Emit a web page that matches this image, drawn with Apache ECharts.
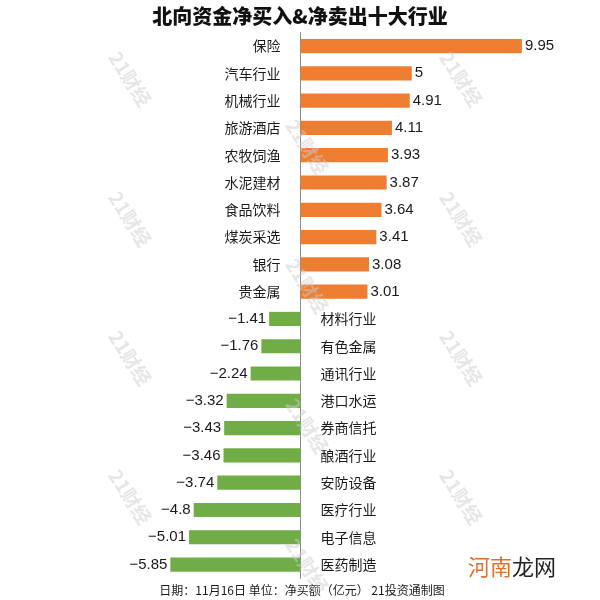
<!DOCTYPE html>
<html>
<head>
<meta charset="utf-8">
<script src="https://cdn.jsdelivr.net/npm/echarts@6/dist/echarts.min.js"></script>
<style>html,body{margin:0;padding:0;background:#fff;}#c{width:600px;height:600px;}</style>
</head>
<body>
<div id="c"></div>
<script>
const categories = ['保险','汽车行业','机械行业','旅游酒店','农牧饲渔','水泥建材','食品饮料','煤炭采选','银行','贵金属',
  '材料行业','有色金属','通讯行业','港口水运','券商信托','酿酒行业','安防设备','医疗行业','电子信息','医药制造'];
const values = [9.95, 5, 4.91, 4.11, 3.93, 3.87, 3.64, 3.41, 3.08, 3.01,
  -1.41, -1.76, -2.24, -3.32, -3.43, -3.46, -3.74, -4.8, -5.01, -5.85];
const titleText = '北向资金净买入&净卖出十大行业';
const footerText = '日期：11月16日 单位：净买额（亿元） 21投资通制图';

const ORANGE = '#ED7D31', GREEN = '#70AD47';
const CJK = '"Noto Sans CJK SC", sans-serif';
const LAT = '"Liberation Sans", Arial, sans-serif';

const barData = values.map(v => ({
  value: v,
  itemStyle: { color: v >= 0 ? ORANGE : GREEN },
  label: { position: v >= 0 ? 'right' : 'left' }
}));
const nameData = values.map((v, i) => ({
  value: 0,
  label: { position: v >= 0 ? 'left' : 'right', formatter: categories[i] }
}));

const wm = [];
[[130,79],[130,219],[130,358],[130,497],[461,79],[461,219],[461,358],[461,497],[307,147],[307,286],[307,426],[307,566]]
  .forEach(p => wm.push({
    type: 'text', x: p[0], y: p[1], rotation: -1.0, z: 100, silent: true,
    style: { text: '21财经', fill: 'rgba(205,205,205,0.5)', font: 'bold 19px ' + CJK, align: 'center', verticalAlign: 'middle' }
  }));

const chart = echarts.init(document.getElementById('c'));
chart.setOption({
  backgroundColor: '#fff',
  animation: false,
  title: {
    text: titleText, left: 'center', top: 1,
    textStyle: { fontSize: 20, fontWeight: 900, color: '#111', fontFamily: CJK }
  },
  grid: { left: 167, width: 356, top: 32.4, height: 545.8, containLabel: false },
  xAxis: {
    type: 'value', min: -6, max: 10,
    axisLine: { show: false }, axisTick: { show: false }, axisLabel: { show: false }, splitLine: { show: false }
  },
  yAxis: {
    type: 'category', data: categories, inverse: true,
    axisLine: { show: true, lineStyle: { color: '#8c8c8c', width: 1 } },
    axisTick: { show: false }, axisLabel: { show: false }
  },
  series: [
    {
      type: 'bar', data: barData, barWidth: '52%', barGap: '-100%',
      label: {
        show: true, distance: 3, color: '#1a1a1a', fontSize: 15, fontFamily: LAT,
        formatter: p => String(p.value).replace('-', '\u2212')
      },
      z: 2
    },
    {
      type: 'bar', data: nameData, barWidth: '52%', barGap: '-100%',
      itemStyle: { color: 'transparent' },
      label: { show: true, distance: 20, color: '#1a1a1a', fontSize: 14, fontFamily: CJK },
      z: 3
    }
  ],
  graphic: wm.concat([
    {
      type: 'text', x: 302, y: 590, z: 50,
      style: { text: footerText, fill: '#1a1a1a', font: '12px ' + CJK, align: 'center', verticalAlign: 'middle' }
    },
    {
      type: 'text', x: 468, y: 567, z: 120,
      style: {
        text: '{a|河南}{b|龙网}', align: 'left', verticalAlign: 'middle',
        rich: {
          a: { fill: '#E0702F', fontSize: 22, fontFamily: CJK },
          b: { fill: '#222', fontSize: 22, fontFamily: CJK }
        }
      }
    }
  ])
});
</script>
</body>
</html>
